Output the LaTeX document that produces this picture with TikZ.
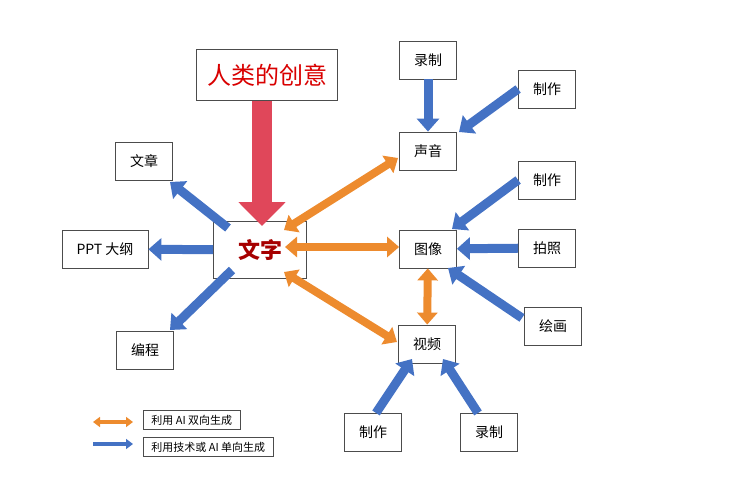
\documentclass[tikz,border=0pt]{standalone}
\usepackage{fontspec}
\setmainfont{Liberation Sans}
\newfontfamily\cjk{Noto Sans CJK SC}
\usetikzlibrary{arrows.meta}
\definecolor{bl}{HTML}{4472C4}
\definecolor{og}{HTML}{ED8B2E}
\definecolor{rd}{HTML}{E0475A}
\tikzset{
 box/.style={draw=black!70,fill=white,line width=0.8pt,minimum width=57pt,minimum height=38pt,font=\cjk\fontsize{14}{16}\selectfont,inner sep=2pt},
 barrow/.style={draw=bl,line width=9pt,-{Triangle[width=22pt,length=13pt]}},
 oarrow/.style={draw=og,line width=8pt,{Triangle[width=20pt,length=12pt]}-{Triangle[width=20pt,length=12pt]}},
 lbox/.style={draw=black!70,line width=0.8pt,anchor=west,font=\cjk\fontsize{11}{13}\selectfont,inner xsep=8pt,minimum height=19pt}
}
\begin{document}
\begin{tikzpicture}[x=1pt,y=-1pt]
\useasboundingbox (0,0) rectangle (747,500);
\node[box,minimum width=141pt,minimum height=51pt,font=\cjk\fontsize{24}{28}\selectfont,text=red!85!black] (idea) at (267,75) {人类的创意};
\node[box,minimum width=93pt,minimum height=57pt,font=\cjk\bfseries\fontsize{22}{26}\selectfont,text=red!65!black] (wz) at (260,250) {文字};
\node[box] (lz1) at (428,60) {录制};
\node[box] (zz1) at (547,89) {制作};
\node[box] (sy) at (428,151) {声音};
\node[box] (zz2) at (547,180) {制作};
\node[box] (tx) at (428,249) {图像};
\node[box] (pz) at (547,248) {拍照};
\node[box] (hh) at (553,326) {绘画};
\node[box] (sp) at (427,344) {视频};
\node[box] (zz3) at (373,432) {制作};
\node[box] (lz2) at (489,432) {录制};
\node[box] (wzh) at (144,161) {文章};
\node[box,minimum width=86pt] (ppt) at (105,249) {PPT 大纲};
\node[box] (bc) at (145,350) {编程};
% red
\draw[draw=rd,line width=20pt,-{Triangle[width=46pt,length=24pt]}] (idea.south -| 262,0) -- (262,226);
% blue
\draw[barrow] (lz1) -- (sy);
\draw[barrow] (zz1.west) -- (459,132);
\draw[barrow] (zz2.west) -- (452,229);
\draw[barrow] (pz) -- (tx);
\draw[barrow] (522,318) -- (448,268);
\draw[barrow] (376,413) -- (412,359);
\draw[barrow] (478,413) -- (443,359);
\draw[barrow] (228,228) -- (170,182);
\draw[barrow] (wz) -- (ppt);
\draw[barrow] (232,270) -- (170,330);
% orange
\draw[oarrow] (284,230) -- (398,158);
\draw[oarrow] (285,247) -- (tx.west |- 0,247);
\draw[oarrow] (284,272) -- (397,342);
\draw[oarrow] (tx) -- (sp);
% legend
\node[lbox] (l1) at (143,420) {利用 AI 双向生成};
\node[lbox] (l2) at (143,447) {利用技术或 AI 单向生成};
\coordinate (o1) at (93,422); \coordinate (o2) at (133,422);
\coordinate (b1) at (93,444); \coordinate (b2) at (133,444);
\draw[draw=og,line width=4pt,{Triangle[width=10pt,length=7pt]}-{Triangle[width=10pt,length=7pt]}] (o1) -- (o2);
\draw[draw=bl,line width=4pt,-{Triangle[width=10pt,length=7pt]}] (b1) -- (b2);
\end{tikzpicture}
\end{document}
